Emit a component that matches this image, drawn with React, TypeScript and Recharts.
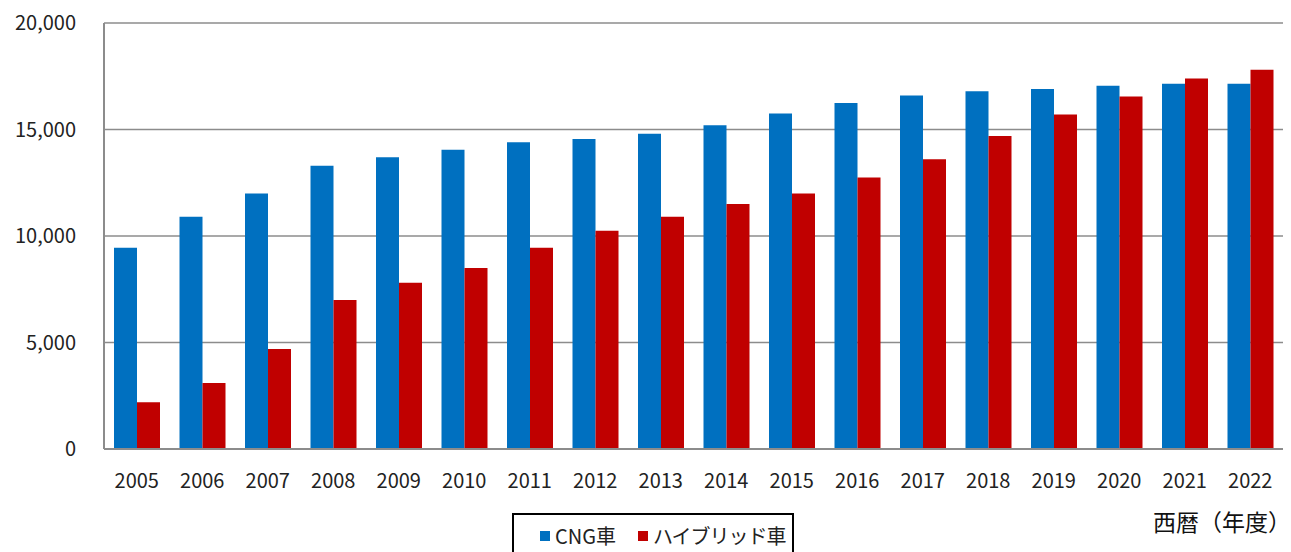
import React from 'react';
import { BarChart, Bar, XAxis, YAxis, CartesianGrid, Legend } from 'recharts';

const years = ['2005','2006','2007','2008','2009','2010','2011','2012','2013','2014','2015','2016','2017','2018','2019','2020','2021','2022'];
const cngValues = [9450,10900,12000,13300,13700,14050,14400,14550,14800,15200,15750,16250,16600,16800,16900,17050,17150,17150];
const hybridValues = [2200,3100,4700,7000,7800,8500,9450,10250,10900,11500,12000,12750,13600,14700,15700,16550,17400,17800];
const yTicks = [0,5000,10000,15000,20000];
const seriesNames = ['CNG車','ハイブリッド車'];

const data = years.map((y, i) => ({ year: y, cng: cngValues[i], hybrid: hybridValues[i] }));

const FONT = '"Noto Sans CJK JP", "Noto Sans", sans-serif';

const LegendBox = () => (
  <div style={{ border: '2px solid #000', boxSizing: 'border-box', width: 282, height: 45, display: 'flex', alignItems: 'center', paddingLeft: 26, fontFamily: FONT, fontSize: 20, color: '#222' }}>
    <span style={{ display: 'inline-block', width: 10, height: 10, background: '#0070C0', marginRight: 5 }} />
    <span style={{ marginRight: 22 }}>{seriesNames[0]}</span>
    <span style={{ display: 'inline-block', width: 10, height: 10, background: '#C00000', marginRight: 5 }} />
    <span style={{ letterSpacing: -1 }}>{seriesNames[1]}</span>
  </div>
);

const AxisTitle = (props: any) => {
  const vb = props.viewBox || {};
  return (
    <text x={vb.x + vb.width + 8} y={vb.y + 82} textAnchor="end" fontFamily={FONT} fontSize={23} fill="#111">西暦（年度）</text>
  );
};

export default function App() {
  return (
    <div style={{ position: 'absolute', left: 0, top: 0, width: 1291, height: 552, background: '#fff' }}>
      <BarChart width={1291} height={552} data={data} margin={{ top: 23, right: 8, left: 0, bottom: 0 }} barCategoryGap={10} barGap={0}>
        <CartesianGrid vertical={false} stroke="#8c8c8c" strokeWidth={1.5} />
        <XAxis dataKey="year" height={103} tickLine={false} axisLine={{ stroke: '#8c8c8c', strokeWidth: 2 }} tick={{ fontFamily: FONT, fontSize: 20, fill: '#222' }} dy={17} label={<AxisTitle />} />
        <YAxis width={104} domain={[0, 20000]} ticks={yTicks} tickLine={false} axisLine={{ stroke: '#8c8c8c', strokeWidth: 2 }} tick={{ fontFamily: FONT, fontSize: 20, fill: '#222' }} tickFormatter={(v: number) => v.toLocaleString('en-US')} dx={-20} />
        <Legend content={<LegendBox />} wrapperStyle={{ position: 'absolute', top: 513, left: 512, width: 282, height: 0, overflow: 'visible' }} />
        <Bar dataKey="cng" name={seriesNames[0]} fill="#0070C0" isAnimationActive={false} />
        <Bar dataKey="hybrid" name={seriesNames[1]} fill="#C00000" isAnimationActive={false} />
      </BarChart>
    </div>
  );
}
